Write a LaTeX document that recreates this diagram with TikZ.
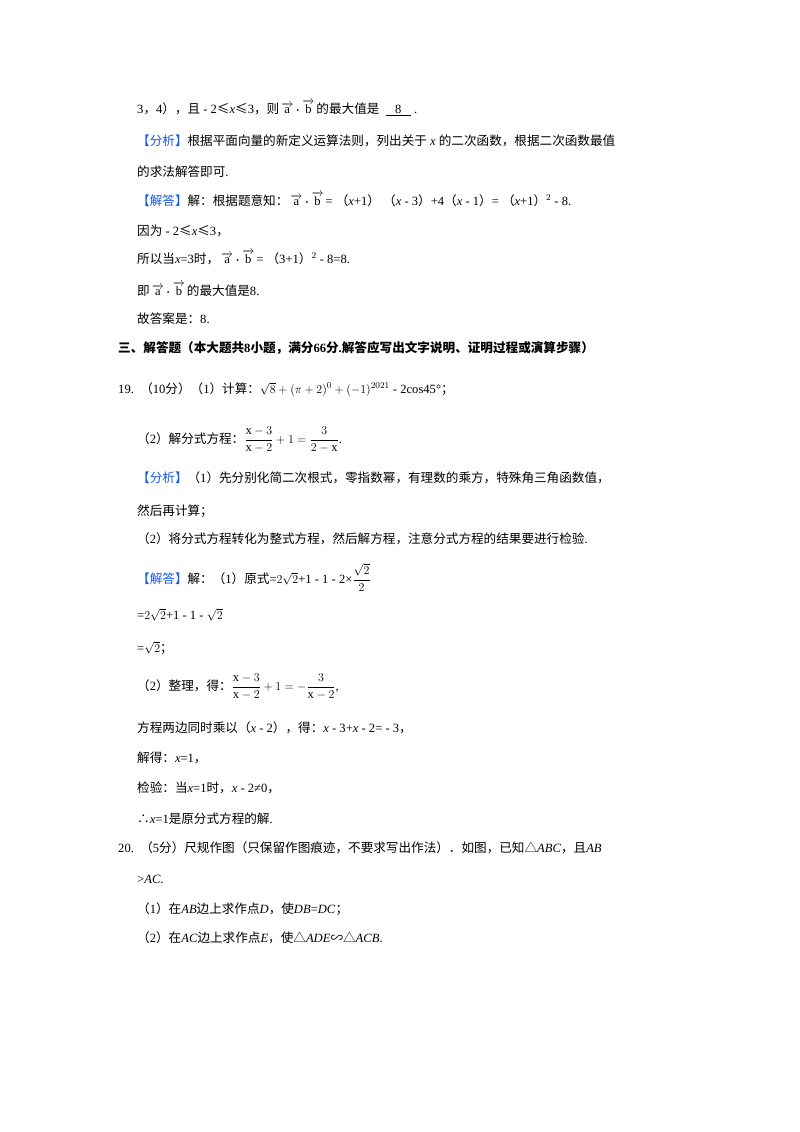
\documentclass[tikz,border=0pt]{standalone}
\usepackage{amsmath,amssymb}
\usepackage{fontspec}
\setmainfont{Liberation Serif}
\newfontfamily\cjk{Noto Sans CJK SC}
\definecolor{kb}{RGB}{20,90,230}
\tikzset{tl/.style={anchor=base west,inner sep=0pt,font=\fontsize{12.6}{14}\selectfont}}
\newcommand{\bk}[1]{{\color{kb}\cjk 【#1】}}
\newcommand{\va}{\,\overrightarrow{\mathrm{a}}\boldsymbol{\cdot}\overrightarrow{\mathrm{b}}\,}
\begin{document}
\begin{tikzpicture}[x=1pt,y=-1pt]
\useasboundingbox (0,0) rectangle (800,1132);
\fill[white] (0,0) rectangle (800,1132);
\node[tl] (l1) at (137,113) {3{\cjk ，}4{\cjk ）}{\cjk ，且} - 2{\cjk ≤}\textit{x}{\cjk ≤}3{\cjk ，则}$\va${\cjk 的最大值是}\ \ \underline{\ \ \ 8\ \ \ }\ .};
\node[tl] (l2) at (137,145) {\bk{分析}{\cjk 根据平面向量的新定义运算法则，列出关于} \textit{x} {\cjk 的二次函数，根据二次函数最值}};
\node[tl] (l3) at (137,176) {{\cjk 的求法解答即可}.};
\node[tl] (l4) at (137,205) {\bk{解答}{\cjk 解：根据题意知：}$\va$= {\cjk （}\textit{x}+1{\cjk ）}\ {\cjk （}\textit{x} - 3{\cjk ）}+4{\cjk （}\textit{x} - 1{\cjk ）}= {\cjk （}\textit{x}+1{\cjk ）}$^{2}$ - 8.};
\node[tl] (l5) at (137,235) {{\cjk 因为} - 2{\cjk ≤}\textit{x}{\cjk ≤}3{\cjk ，}};
\node[tl] (l6) at (137,263) {{\cjk 所以当}\textit{x}=3{\cjk 时，}$\va$= {\cjk （}3+1{\cjk ）}$^{2}$ - 8=8.};
\node[tl] (l7) at (137,295) {{\cjk 即}$\va${\cjk 的最大值是}8.};
\node[tl] (l8) at (137,323) {{\cjk 故答案是：}8.};
\node[tl,font=\fontsize{12.6}{14}\selectfont\bfseries] (l9) at (118,352) {{\cjk\bfseries 三、解答题（本大题共}8{\cjk\bfseries 小题，满分}66{\cjk\bfseries 分}.{\cjk\bfseries 解答应写出文字说明、证明过程或演算步骤）}};
\node[tl] (l10) at (118,393) {19.\ \ {\cjk （}10{\cjk 分）（}1{\cjk ）计算：}$\sqrt{8}+(\pi+2)^{0}+(-1)^{2021}$ - 2cos45°{\cjk ；}};
\node[tl] (l11) at (137,443) {{\cjk （}2{\cjk ）解分式方程：}$\dfrac{\mathrm{x}-3}{\mathrm{x}-2}+1=\dfrac{3}{2-\mathrm{x}}$.};
\node[tl] (l12) at (137,482) {\bk{分析}{\cjk （}1{\cjk ）先分别化简二次根式，零指数幂，有理数的乘方，特殊角三角函数值，}};
\node[tl] (l13) at (137,515) {{\cjk 然后再计算；}};
\node[tl] (l14) at (137,543) {{\cjk （}2{\cjk ）将分式方程转化为整式方程，然后解方程，注意分式方程的结果要进行检验}.};
\node[tl] (l15) at (137,583) {\bk{解答}{\cjk 解：（}1{\cjk ）原式}=$2\sqrt{2}$+1 - 1 - 2×$\dfrac{\sqrt{2}}{2}$};
\node[tl] (l16) at (137,619) {=$2\sqrt{2}$+1 - 1 - $\sqrt{2}$};
\node[tl] (l17) at (137,652) {=$\sqrt{2}${\cjk ；}};
\node[tl] (l18) at (137,690) {{\cjk （}2{\cjk ）整理，得：}$\dfrac{\mathrm{x}-3}{\mathrm{x}-2}+1=-\dfrac{3}{\mathrm{x}-2}$,};
\node[tl] (l19) at (137,732) {{\cjk 方程两边同时乘以（}\textit{x} - 2{\cjk ），得：}\textit{x} - 3+\textit{x} - 2= - 3{\cjk ，}};
\node[tl] (l20) at (137,762) {{\cjk 解得：}\textit{x}=1{\cjk ，}};
\node[tl] (l21) at (137,792) {{\cjk 检验：当}\textit{x}=1{\cjk 时，}\textit{x} - 2≠0{\cjk ，}};
\node[tl] (l22) at (137,823) {{\cjk ∴}\textit{x}=1{\cjk 是原分式方程的解}.};
\node[tl] (l23) at (118,852) {20.\ \ {\cjk （}5{\cjk 分）尺规作图（只保留作图痕迹，不要求写出作法）．如图，已知△}\textit{ABC}{\cjk ，且}\textit{AB}};
\node[tl] (l24) at (137,883) {>\textit{AC}.};
\node[tl] (l25) at (137,913) {{\cjk （}1{\cjk ）在}\textit{AB}{\cjk 边上求作点}\textit{D}{\cjk ，使}\textit{DB}=\textit{DC}{\cjk ；}};
\node[tl] (l26) at (137,942) {{\cjk （}2{\cjk ）在}\textit{AC}{\cjk 边上求作点}\textit{E}{\cjk ，使△}\textit{ADE}{\cjk ∽△}\textit{ACB}.};
\end{tikzpicture}
\end{document}
